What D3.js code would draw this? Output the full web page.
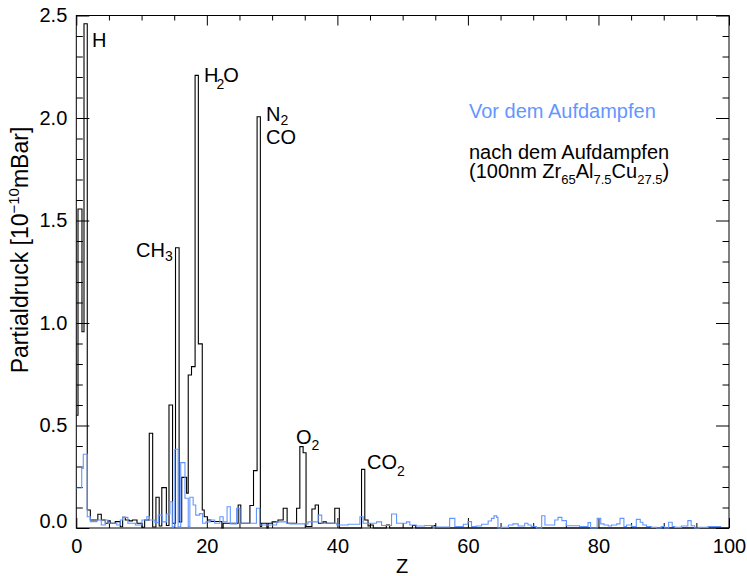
<!DOCTYPE html>
<html><head><meta charset="utf-8">
<script src="https://cdn.jsdelivr.net/npm/d3@7"></script>
<style>
body{margin:0;background:#fff;}
svg text{font-family:"Liberation Sans",Arial,Helvetica,sans-serif;}
</style></head>
<body><svg id="c" width="747" height="576"></svg>
<script>
// ---- data: step histograms (left bin edge in Z, value in 1e-10 mBar) ----
const blackZ = [0,0.26,0.87,1.18,1.68,2.15,3.3,3.83,4.45,4.85,5.2,5.97,6.74,7.1,7.5,8.1,8.6,9.3,10.06,10.47,11.18,11.7,12.2,12.7,13.1,13.8,14.2,14.75,15.2,15.75,16.15,16.9,17.15,17.65,18.2,18.7,19.3,19.6,20.1,20.6,22.3,22.5,24.8,25.2,26.6,27.15,27.7,28.2,28.4,29.2,29.4,30.0,30.9,31.7,32.3,33.75,34.25,34.75,35.2,36.1,36.6,37.1,37.8,38.3,39.6,40.3,43.7,44.2,44.7,45.0,45.5,47.5,48.0,51.5,52.0,54.5,55.0,100];
const blackV = [0.55,1.556,0.957,2.46,0.088,0.039,0.067,0.039,0.023,0.035,0.023,0.031,0.006,0.052,0.039,0.035,0.039,0.023,0.004,0.039,0.462,0.005,0.15,0.01,0.197,0.012,0.6,0.023,1.367,0.03,0.247,0.17,0.746,0.787,2.208,0.898,0.088,0.055,0.039,0.032,0.0,0.023,0.112,0.023,0.11,0.28,2.006,0.007,0.023,0.0,0.023,0.03,0.039,0.096,0.023,0.096,0.397,0.367,0.007,0.093,0.112,0.023,0.03,0.023,0.096,0.0,0.286,0.039,0.01,0.015,0.0,0.015,0.0,0.012,0.0,0.012,0.0,0.0];

const blueZ = [0,0.83,1.07,1.68,2.15,3.17,3.83,4.45,4.85,6.2,6.74,7.1,7.9,9.05,10.06,10.8,11.2,12.05,12.56,13.17,13.84,14.35,14.7,15.1,15.6,16.0,16.65,17.15,17.4,17.9,18.3,18.9,19.35,19.86,20.5,21.2,22.0,22.5,23.1,23.6,24.56,25.07,27.6,28.1,30.7,32.2,32.7,35.5,37.06,37.6,39.9,41.65,43.45,43.95,46.0,46.77,48.3,49.07,50.6,51.1,52.1,53.4,54.7,57.2,58.0,59.3,60.0,60.55,61.3,62.1,63.1,63.6,64.0,64.4,64.6,65.1,66.2,66.9,67.7,68.7,69.2,69.7,70.5,71.3,71.8,73.3,73.8,74.4,75.1,77.1,78.4,78.8,79.8,80.35,80.85,81.5,82.0,82.8,83.3,83.9,84.3,85.05,85.8,86.4,86.8,87.35,88.1,88.9,89.6,90.15,90.75,91.3,91.7,92.7,93.7,94.2,94.75,95.4,96.8,98.8];
const blueV = [0.195,0.29,0.36,0.055,0.031,0.039,0.015,0.039,0.023,0.015,0.039,0.052,0.023,0.015,0.039,0.055,0.039,0.026,0.063,0.03,0.068,0.128,0.006,0.384,0.006,0.319,0.145,0.006,0.15,0.112,0.063,0.07,0.023,0.03,0.039,0.023,0.055,0.03,0.104,0.02,0.096,0.023,0.096,0.015,0.03,0.023,0.02,0.03,0.063,0.023,0.015,0.018,0.055,0.023,0.03,0.012,0.068,0.023,0.03,0.015,0.01,0.012,0.005,0.047,0.007,0.018,0.031,0.007,0.01,0.018,0.034,0.047,0.059,0.052,0.0,0.003,0.015,0.02,0.01,0.023,0.015,0.007,0.0,0.06,0.015,0.039,0.052,0.036,0.011,0.007,0.026,0.0,0.047,0.02,0.015,0.01,0.015,0.02,0.047,0.007,0.015,0.007,0.042,0.028,0.015,0.007,0.003,0.0,0.007,0.0,0.028,0.007,0.003,0.01,0.036,0.011,0.0,0.003,0.007,0.007];

const xMajor = [0,20,40,60,80,100];
const yMajor = [0.0,0.5,1.0,1.5,2.0,2.5];

const svg = d3.select("#c");
const x = d3.scaleLinear().domain([0,100]).range([76.3,729]);
const y = d3.scaleLinear().domain([0,2.5]).range([528,15.5]);

// frame
svg.append("rect").attr("x",x(0)).attr("y",y(2.5)).attr("width",x(100)-x(0)).attr("height",y(0)-y(2.5))
  .attr("fill","none").attr("stroke","#000").attr("stroke-width",1);

const xMinor = d3.range(0,101,5).filter(d=>d%20!==0);
const yMinor = d3.range(0,26).map(d=>d/10).filter(d=>Math.round(d*10)%5!==0);

function ax(axisFn, scale, vals, size, pad, fmt, tx, ty, fs){
  const g = svg.append("g").attr("transform",`translate(${tx},${ty})`)
    .call(axisFn(scale).tickValues(vals).tickSize(size).tickPadding(pad).tickFormat(fmt));
  g.select(".domain").remove();
  g.selectAll("line").attr("stroke","#000");
  g.selectAll("text").attr("fill","#000").style("font-size",fs+"px").style("font-family","'Liberation Sans',Arial,sans-serif");
  return g;
}
// bottom
ax(d3.axisBottom,x,xMajor,-10,11,d3.format("d"),0,y(0),20);
ax(d3.axisBottom,x,xMinor,-5,0,()=>"",0,y(0),20);
// top
ax(d3.axisTop,x,xMajor,-10,0,()=>"",0,y(2.5),20);
ax(d3.axisTop,x,xMinor,-5,0,()=>"",0,y(2.5),20);
// left
const gl = ax(d3.axisLeft,y,yMajor,-13,9,d3.format(".1f"),x(0),0,20);
gl.selectAll(".tick text").filter(d=>d===0).attr("dy","-0.02em");
ax(d3.axisLeft,y,yMinor,-6.5,0,()=>"",x(0),0,20);
// right
ax(d3.axisRight,y,yMajor,-13,0,()=>"",x(100),0,20);
ax(d3.axisRight,y,yMinor,-6.5,0,()=>"",x(100),0,20);

// step lines
function stepLine(zs, vs){
  const pts = zs.map((z,i)=>[z, vs[Math.min(i,vs.length-1)]]);
  return d3.line().x(d=>x(d[0])).y(d=>y(d[1])).curve(d3.curveStepAfter)(pts);
}
svg.append("path").attr("d",stepLine(blackZ,blackV)).attr("fill","none").attr("stroke","#000").attr("stroke-width",1.1);
svg.append("path").attr("d",stepLine(blueZ,blueV)).attr("fill","none").attr("stroke","#6496ff").attr("stroke-width",1.1);

// axis titles
svg.append("text").attr("x",402).attr("y",573).attr("text-anchor","middle").style("font-size","20px").text("Z");
const yt = svg.append("text").attr("transform","translate(28,250) rotate(-90)").attr("text-anchor","middle").style("font-size","23px");
yt.append("tspan").text("Partialdruck [10");
yt.append("tspan").attr("dy","-9").style("font-size","15px").text("\u221210");
yt.append("tspan").attr("dy","9").text("mBar]");

// peak annotations
function chem(px, py, parts){
  const t = svg.append("text").attr("x",px).attr("y",py).style("font-size","20px");
  parts.forEach(p=>{
    const s = t.append("tspan").text(p[0]);
    if(p[1]==="sub"){ s.style("font-size","14px").attr("dy",p[2]); }
    else if(p[1]==="back"){ s.attr("dy",p[2]); }
    if(p[3]!==undefined) s.attr("dx",p[3]);
  });
}
chem(92,47,[["H"]]);
chem(204,82,[["H"],["2","sub",7,-2],["O","back",-7,-1]]);
chem(266,121,[["N"],["2","sub",4]]);
chem(266,144,[["CO"]]);
chem(136,257,[["CH"],["3","sub",4]]);
chem(296,444,[["O"],["2","sub",6]]);
chem(367,469,[["CO"],["2","sub",7]]);

// legend
svg.append("text").attr("x",469).attr("y",118).attr("fill","#6496ff").style("font-size","20px").text("Vor dem Aufdampfen");
svg.append("text").attr("x",469).attr("y",159).style("font-size","20px").text("nach dem Aufdampfen");
const l2 = svg.append("text").attr("x",469).attr("y",178).style("font-size","20px");
l2.append("tspan").text("(100nm Zr");
l2.append("tspan").attr("dy",6).style("font-size","13px").text("65");
l2.append("tspan").attr("dy",-6).text("Al");
l2.append("tspan").attr("dy",6).style("font-size","13px").text("7.5");
l2.append("tspan").attr("dy",-6).text("Cu");
l2.append("tspan").attr("dy",6).style("font-size","13px").text("27.5");
l2.append("tspan").attr("dy",-6).text(")");
</script></body></html>
